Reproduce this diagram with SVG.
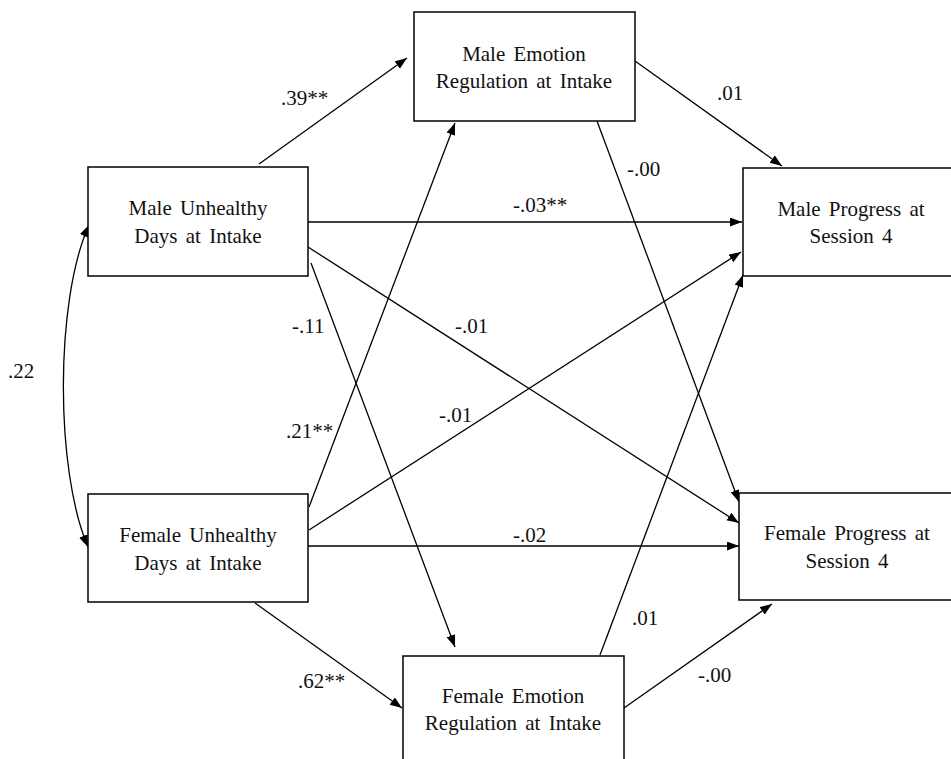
<svg xmlns="http://www.w3.org/2000/svg" width="951" height="759" viewBox="0 0 951 759">
<style>
.box{fill:#fff;stroke:#000;stroke-width:1.5}
.t{font-family:'Liberation Serif','Times New Roman',serif;font-size:21px;fill:#111;word-spacing:3px}
.c{text-anchor:middle}
.ln{fill:none;stroke:#000;stroke-width:1.3;marker-end:url(#ah)}
</style>
<defs>
<marker id="ah" markerUnits="userSpaceOnUse" markerWidth="13" markerHeight="10" refX="12" refY="4.5" orient="auto-start-reverse" viewBox="0 0 13 10">
<path d="M0,0 L12,4.5 L0,9 z" fill="#000"/>
</marker>
</defs>
<rect width="951" height="759" fill="#fff"/>
<g id="connectors">
<path class="ln" d="M259,164 L407,58"/>
<path class="ln" d="M635,61 L782,166"/>
<path class="ln" d="M597,121 L739,502"/>
<path class="ln" d="M308,222 L742,222"/>
<path class="ln" d="M309,530 L741,252"/>
<path class="ln" d="M600,655 L743,275"/>
<path class="ln" d="M308,247 L739,523"/>
<path class="ln" d="M311,263 L455,647"/>
<path class="ln" d="M309,507 L455,123"/>
<path class="ln" d="M308,546 L739,546"/>
<path class="ln" d="M255,603 L402,708"/>
<path class="ln" d="M624,708 L772,604"/>
<path class="ln" style="marker-start:url(#ah)" d="M89,225 C55,300 55,470 88,547"/>
<text class="t" x="281" y="105">.39**</text>
<text class="t" x="717" y="100">.01</text>
<text class="t" x="627" y="176">-.00</text>
<text class="t" x="513" y="212">-.03**</text>
<text class="t" x="455" y="333">-.01</text>
<text class="t" x="292" y="333">-.11</text>
<text class="t" x="8" y="378">.22</text>
<text class="t" x="439" y="422">-.01</text>
<text class="t" x="286" y="438">.21**</text>
<text class="t" x="513" y="542">-.02</text>
<text class="t" x="632" y="625">.01</text>
<text class="t" x="698" y="682">-.00</text>
<text class="t" x="298" y="688">.62**</text>
</g>
<g id="male-unhealthy">
<rect class="box" x="88" y="167" width="220" height="109"/>
<text class="t c" x="198" y="215">Male Unhealthy</text>
<text class="t c" x="198" y="243">Days at Intake</text>
</g>
<g id="male-emotion">
<rect class="box" x="414" y="12" width="221" height="109"/>
<text class="t c" x="524" y="61">Male Emotion</text>
<text class="t c" x="524" y="88">Regulation at Intake</text>
</g>
<g id="male-progress">
<rect class="box" x="743" y="168" width="240" height="108"/>
<text class="t c" x="851" y="216">Male Progress at</text>
<text class="t c" x="851" y="243">Session 4</text>
</g>
<g id="female-unhealthy">
<rect class="box" x="88" y="494" width="220" height="108"/>
<text class="t c" x="198" y="542">Female Unhealthy</text>
<text class="t c" x="198" y="570">Days at Intake</text>
</g>
<g id="female-emotion">
<rect class="box" x="403" y="656" width="221" height="140"/>
<text class="t c" x="513" y="703">Female Emotion</text>
<text class="t c" x="513" y="730">Regulation at Intake</text>
</g>
<g id="female-progress">
<rect class="box" x="739" y="493" width="240" height="107"/>
<text class="t c" x="847" y="540">Female Progress at</text>
<text class="t c" x="847" y="568">Session 4</text>
</g>
</svg>
